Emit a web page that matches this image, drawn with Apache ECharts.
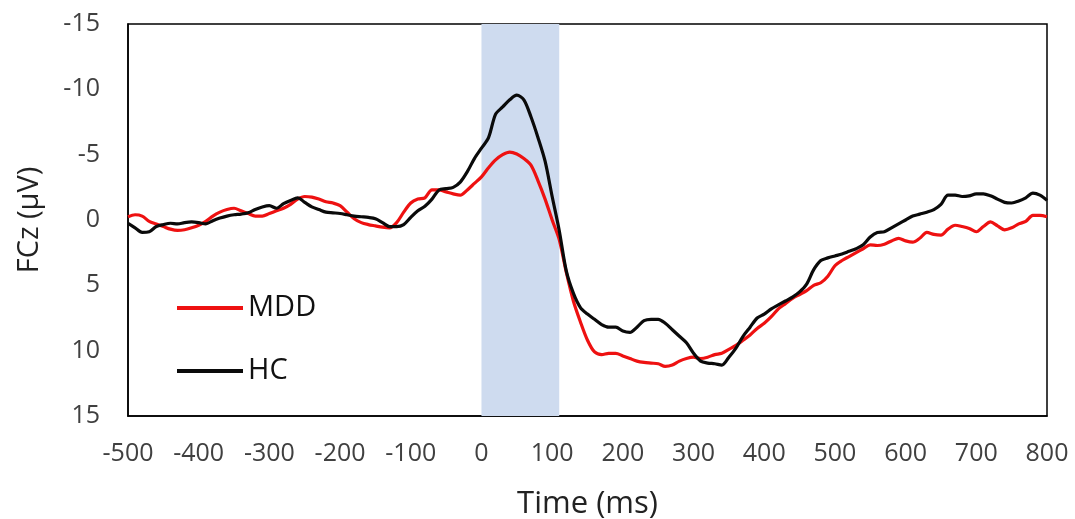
<!DOCTYPE html>
<html>
<head>
<meta charset="utf-8">
<script src="https://cdn.jsdelivr.net/npm/echarts@6/dist/echarts.min.js"></script>
<style>
html,body{margin:0;padding:0;background:#fff;}
#main{width:1075px;height:519px;}
</style>
</head>
<body>
<div id="main"></div>
<script>
// time axis (ms), one point every 10 ms
var times = [];
for (var t = -500; t <= 800; t += 10) { times.push(t); }

// MDD group, FCz amplitude (uV)
var mdd = [
  -0.25,-0.4,-0.3,0.1,0.3,0.5,0.7,0.8,0.75,0.6,
  0.4,0.1,-0.3,-0.6,-0.8,-0.9,-0.7,-0.5,-0.3,-0.3,
  -0.5,-0.7,-0.9,-1.2,-1.6,-1.8,-1.75,-1.6,-1.4,-1.3,
  -1.1,-0.6,-0.1,0.2,0.35,0.45,0.55,0.6,0.2,-0.6,
  -1.3,-1.6,-1.7,-2.3,-2.3,-2.15,-2.0,-1.9,-2.3,-2.8,
  -3.3,-4.0,-4.6,-5.0,-5.2,-5.05,-4.7,-4.2,-3.0,-1.6,
  0.0,1.5,4.0,6.2,7.8,9.2,10.1,10.3,10.2,10.2,
  10.4,10.6,10.8,10.9,10.95,11.0,11.2,11.1,10.8,10.6,
  10.5,10.6,10.5,10.3,10.2,9.9,9.6,9.2,8.8,8.3,
  7.9,7.4,6.8,6.4,6.0,5.7,5.4,5.0,4.8,4.3,
  3.5,3.1,2.8,2.5,2.2,1.9,1.95,1.85,1.6,1.4,
  1.6,1.7,1.4,0.95,1.1,1.15,0.7,0.4,0.5,0.65,
  0.9,0.5,0.15,0.45,0.75,0.6,0.3,0.1,-0.35,-0.35,
  -0.25
];

// HC group
var hc = [
  0.25,0.6,0.95,0.9,0.5,0.35,0.25,0.3,0.2,0.15,
  0.2,0.3,0.05,-0.15,-0.3,-0.4,-0.45,-0.55,-0.8,-1.0,
  -1.1,-0.9,-1.25,-1.5,-1.7,-1.35,-1.0,-0.8,-0.6,-0.55,
  -0.5,-0.4,-0.3,-0.25,-0.2,-0.1,0.2,0.5,0.5,0.35,
  -0.2,-0.7,-1.05,-1.6,-2.3,-2.4,-2.5,-2.9,-3.7,-4.7,
  -5.5,-6.3,-8.1,-8.65,-9.2,-9.55,-9.2,-7.9,-6.3,-4.5,
  -1.8,0.8,3.9,5.6,6.7,7.2,7.6,8.0,8.2,8.2,
  8.5,8.6,8.2,7.7,7.6,7.6,7.9,8.4,8.9,9.4,
  10.2,10.8,10.95,11.0,11.1,10.5,9.8,8.9,8.2,7.5,
  7.2,6.8,6.5,6.2,5.9,5.5,4.9,3.8,3.1,2.9,
  2.75,2.6,2.4,2.2,1.9,1.3,0.95,0.9,0.6,0.3,
  0.0,-0.3,-0.45,-0.6,-0.8,-1.2,-1.9,-1.9,-1.8,-1.85,
  -2.0,-2.0,-1.85,-1.6,-1.35,-1.3,-1.45,-1.7,-2.05,-1.9,
  -1.5
];

// shaded analysis window (ms)
var windowRange = [0, 110];

function pairs(vals) {
  return times.map(function (t, i) { return [t, vals[i]]; });
}

var font = 'Open Sans';
var txt = '#404040';
var myChart = echarts.init(document.getElementById('main'));
var option = {
  animation: false,
  backgroundColor: '#fff',
  grid: {
    left: 128, right: 28, top: 24, bottom: 103,
    outerBoundsMode: 'none', containLabel: false,
    show: true, borderColor: '#000', borderWidth: 1.5, backgroundColor: 'transparent'
  },
  legend: {
    orient: 'vertical',
    left: 172, top: 288,
    icon: 'rect',
    itemWidth: 66, itemHeight: 4,
    itemGap: 33,
    textStyle: { fontFamily: font, fontSize: 29, color: '#111', lineHeight: 30 },
    data: ['MDD', 'HC']
  },
  xAxis: {
    type: 'value', min: -500, max: 800, interval: 100,
    name: 'Time (ms)', nameLocation: 'middle', nameGap: 73,
    nameTextStyle: { fontFamily: font, fontSize: 31, color: '#222' },
    axisLine: { onZero: false, lineStyle: { color: '#000', width: 1.5 } },
    axisTick: { show: false },
    splitLine: { show: false },
    axisLabel: { fontFamily: font, fontSize: 25, color: txt, margin: 25 }
  },
  yAxis: {
    type: 'value', min: -15, max: 15, interval: 5, inverse: true,
    name: 'FCz (\u00b5V)', nameLocation: 'middle', nameGap: 84,
    nameTextStyle: { fontFamily: font, fontSize: 29, color: '#222' },
    axisLine: { show: true, onZero: false, lineStyle: { color: '#000', width: 1.5 } },
    axisTick: { show: false },
    splitLine: { show: false },
    axisLabel: { fontFamily: font, fontSize: 25, color: txt, margin: 28 }
  },
  series: [
    {
      name: 'MDD', type: 'line', data: pairs(mdd),
      showSymbol: false, smooth: 0.3,
      lineStyle: { color: '#ee1111', width: 3.2 },
      itemStyle: { color: '#ee1111' },
      markArea: {
        silent: true,
        itemStyle: { color: 'rgb(206,219,239)' },
        data: [[{ xAxis: windowRange[0] }, { xAxis: windowRange[1] }]]
      }
    },
    {
      name: 'HC', type: 'line', data: pairs(hc),
      showSymbol: false, smooth: 0.3,
      lineStyle: { color: '#0a0a0a', width: 3.2 },
      itemStyle: { color: '#0a0a0a' }
    }
  ]
};
myChart.setOption(option);
</script>
</body>
</html>
